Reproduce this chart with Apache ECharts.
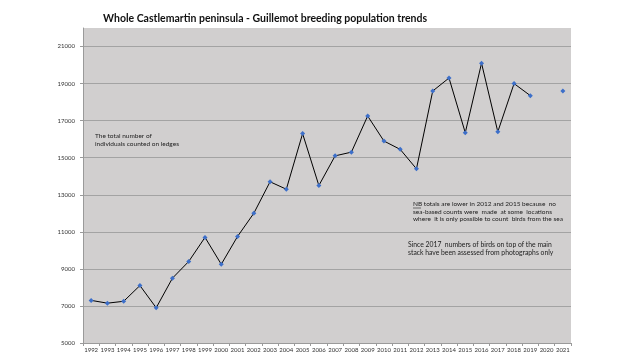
<!DOCTYPE html>
<html>
<head>
<meta charset="utf-8">
<script src="https://cdn.jsdelivr.net/npm/echarts@6/dist/echarts.min.js"></script>
<style>
html,body{margin:0;padding:0;background:#fff;}
#chart{width:640px;height:360px;}
</style>
</head>
<body>
<div id="chart"></div>
<script>
const years = ['1992','1993','1994','1995','1996','1997','1998','1999','2000','2001','2002','2003','2004','2005','2006','2007','2008','2009','2010','2011','2012','2013','2014','2015','2016','2017','2018','2019','2020','2021'];
const population = [7300,7150,7250,8100,6900,8500,9400,10700,9250,10750,12000,13700,13300,16300,13500,15100,15300,17250,15900,15450,14400,18600,19300,16350,20100,16400,19000,18350,null,18600];
const yTicks = [5000,7000,9000,11000,13000,15000,17000,19000,21000];
const yMin = 5000;
const yMax = 22000;
const titleText = 'Whole Castlemartin peninsula - Guillemot breeding population trends';
const noteLedges = ['The total number of', 'individuals counted on ledges'];
const noteNB = ['NB totals are lower in 2012 and 2015 because  no', 'sea-based counts were  made  at some  locations', 'where  it is only possible to count  birds from the sea'];
const notePhotos = ['Since 2017  numbers of birds on top of the main', 'stack have been assessed from photographs only'];

const FONT = 'Lato, "Open Sans", sans-serif';
const chart = echarts.init(document.getElementById('chart'), null, {renderer: 'canvas'});
chart.setOption({
  animation: false,
  backgroundColor: '#ffffff',
  title: {
    text: titleText,
    left: 98, top: 8,
    textStyle: {fontFamily: FONT, fontSize: 10.5, fontWeight: 'bold', color: '#111'}
  },
  grid: {
    left: 83, right: 69, top: 28, bottom: 17,
    show: true, backgroundColor: '#d1cfcf', borderWidth: 0
  },
  xAxis: {
    type: 'category',
    data: years,
    boundaryGap: true,
    axisLine: {show: true, lineStyle: {color: '#9a9a9a', width: 1}},
    axisTick: {show: true, alignWithLabel: false, length: 3, lineStyle: {color: '#9a9a9a'}},
    axisLabel: {interval: 0, fontFamily: FONT, fontSize: 6, color: '#333', margin: 4},
    splitLine: {show: false}
  },
  yAxis: {
    type: 'value',
    min: yMin, max: yMax,
    axisLine: {show: true, lineStyle: {color: '#9a9a9a', width: 1}},
    axisTick: {show: true, length: 3, customValues: yTicks, lineStyle: {color: '#9a9a9a'}},
    axisLabel: {customValues: yTicks, formatter: v => String(v), fontFamily: FONT, fontSize: 6, color: '#333', margin: 8},
    splitLine: {show: true, lineStyle: {color: '#a3a3a3', width: 1}}
  },
  series: [{
    type: 'line',
    data: population,
    connectNulls: false,
    symbol: 'diamond',
    symbolSize: 5,
    showAllSymbol: true,
    lineStyle: {color: '#000', width: 1},
    itemStyle: {color: '#3d6fc9'},
    z: 3
  }],
  graphic: [
    {type: 'text', left: 95, top: 132, style: {text: noteLedges.join('\n'), font: '6.5px ' + FONT, fill: '#222', lineHeight: 8}},
    {type: 'text', left: 413, top: 200, style: {text: noteNB.join('\n'), font: '6.5px ' + FONT, fill: '#222', lineHeight: 7.7}},
    {type: 'line', shape: {x1: 413, y1: 208, x2: 421, y2: 208}, style: {stroke: '#222', lineWidth: 0.6}},
    {type: 'text', left: 408, top: 240.5, style: {text: notePhotos.join('\n'), font: '6.8px ' + FONT, fill: '#222', lineHeight: 8.3}}
  ]
});
</script>
</body>
</html>
